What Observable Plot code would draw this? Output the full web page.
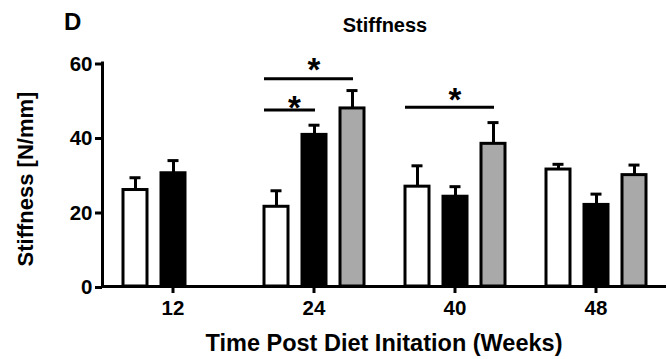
<!DOCTYPE html>
<html><head><meta charset="utf-8">
<script src="https://cdn.jsdelivr.net/npm/d3@7"></script>
<script src="https://cdn.jsdelivr.net/npm/@observablehq/plot@0.6"></script>
<style>
body{margin:0;background:#fff;}
#wrap{position:relative;width:667px;height:359px;font-family:"Liberation Sans",Arial,Helvetica,sans-serif;font-weight:bold;color:#000;overflow:hidden;}
#wrap svg{position:absolute;left:0;top:0;}
.lbl{position:absolute;white-space:nowrap;line-height:1;}
</style></head><body>
<div id="wrap">
  <div class="lbl" id="panel" style="left:64px;top:10px;font-size:24px;">D</div>
  <div class="lbl" id="title" style="left:385px;top:15.4px;font-size:20px;transform:translate(-50%,0);">Stiffness</div>
  <div class="lbl" id="xlab" style="left:384px;top:331.8px;font-size:23.5px;transform:translate(-50%,0);">Time Post Diet Initation (Weeks)</div>
  <div class="lbl" id="ylab" style="left:33.5px;top:179px;font-size:22px;transform-origin:0 0;transform:rotate(-90deg) translate(-50%,-18.6px);">Stiffness [N/mm]</div>
</div>
<script>
// Categories
const weeks = [12, 24, 40, 48];
const groups = ["Group 1", "Group 2", "Group 3"];
const groupColors = ["#ffffff", "#000000", "#a9a9a9"];
const yTicks = [0, 20, 40, 60];

// Series values (mean) and error (upper SEM) per group, indexed by week
const meanG1 = [25.9, 21.4, 26.8, 31.4];
const meanG2 = [30.4, 40.7, 24.1, 21.9];
const meanG3 = [null, 47.8, 38.3, 29.9];
const errG1 = [3.3, 4.3, 5.6, 1.4];
const errG2 = [3.4, 2.6, 2.7, 2.9];
const errG3 = [null, 4.8, 5.7, 2.7];

// Significance brackets
const sigWeek = [24, 24, 40];
const sigFrom = ["Group 1", "Group 1", "Group 1"];
const sigTo = ["Group 3", "Group 2", "Group 3"];
const sigY = [55.8, 47.4, 48.1];

// Asterisks: centred on the week group, or between two groups
const starCenterWeek = [24, 40];
const starCenterY = [61.5, 53.4];
const starPairWeek = [24];
const starPairAt = ["Group 2"];
const starPairY = [51.3];

const means = [meanG1, meanG2, meanG3];
const errs = [errG1, errG2, errG3];
const rows = [];
groups.forEach((g, gi) => weeks.forEach((w, wi) => {
  const m = means[gi][wi];
  if (m != null) rows.push({week: w, group: g, mean: m, err: errs[gi][wi]});
}));
const sig = sigWeek.map((w, i) => ({week: w, from: sigFrom[i], to: sigTo[i], y: sigY[i]}));
const starsC = starCenterWeek.map((w, i) => ({week: w, y: starCenterY[i]}));
const starsP = starPairWeek.map((w, i) => ({week: w, at: starPairAt[i], y: starPairY[i]}));

const chart = Plot.plot({
  width: 667,
  height: 359,
  marginLeft: 100,
  marginRight: 0,
  marginTop: 62.5,
  marginBottom: 73,
  fx: {domain: weeks, padding: 0, label: null},
  x: {domain: groups, paddingInner: 0.377, paddingOuter: 0.53, axis: null},
  y: {domain: [0, 60], label: null},
  color: {domain: groups, range: groupColors},
  style: {fontFamily: "'Liberation Sans', Arial, Helvetica, sans-serif", fontWeight: "bold", fontSize: "20.5px", background: "transparent", overflow: "visible", color: "black"},
  marks: [
    Plot.barY(rows, {fx: "week", x: "group", y: "mean", fill: "group", stroke: "black", strokeWidth: 3}),
    Plot.ruleX(rows, {fx: "week", x: "group", y1: "mean", y2: d => d.mean + d.err, stroke: "black", strokeWidth: 3}),
    Plot.tickY(rows, {fx: "week", x: "group", y: d => d.mean + d.err, stroke: "black", strokeWidth: 3, inset: 6.5}),
    Plot.ruleY(sig, {fx: "week", x1: "from", x2: "to", y: "y", stroke: "black", strokeWidth: 3, insetRight: 11}),
    Plot.text(starsC, {fx: "week", y: "y", text: () => "*", frameAnchor: "middle", lineAnchor: "top", fontSize: 33, fontWeight: "bold"}),
    Plot.text(starsP, {fx: "week", x: "at", y: "y", text: () => "*", dx: -20, lineAnchor: "top", fontSize: 33, fontWeight: "bold"}),
    Plot.ruleY([0], {stroke: "black", strokeWidth: 3}),
    Plot.frame({anchor: "left", facetAnchor: "left", stroke: "black", strokeWidth: 3}),
    Plot.axisY({ticks: yTicks, tickSize: 7, tickPadding: 3, strokeWidth: 3, label: null, fontSize: 20.5, fontWeight: "bold", dy: 1}),
    Plot.axisFx({anchor: "bottom", tickSize: 7, tickPadding: 7, strokeWidth: 3, label: null, fontSize: 20.5, fontWeight: "bold"})
  ]
});
document.getElementById("wrap").insertBefore(chart, document.getElementById("wrap").firstChild);
</script>
</body></html>
